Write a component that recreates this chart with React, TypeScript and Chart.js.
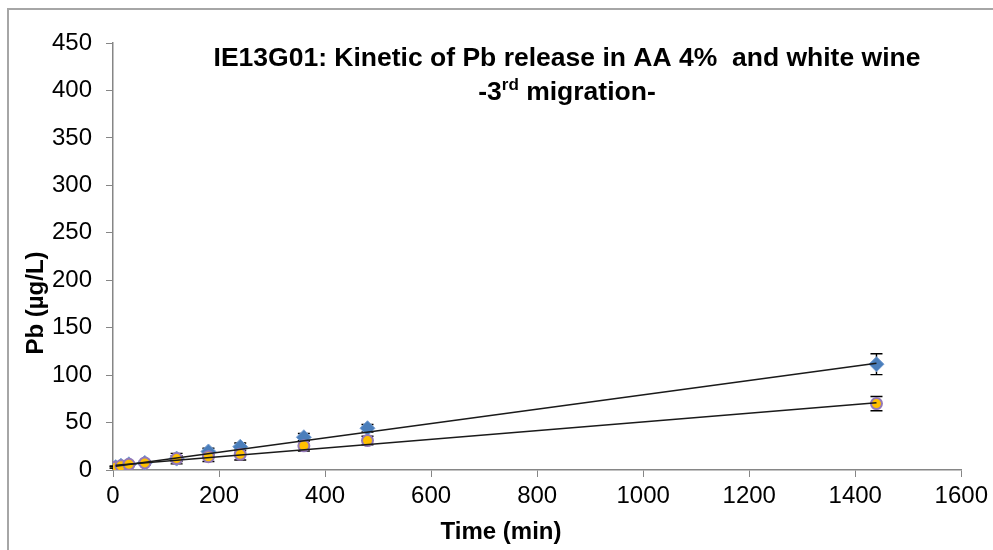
import React, { useEffect, useRef } from "react";
import { Chart, registerables } from "chart.js";
Chart.register(...registerables);

// ---- data ----
const times = [5, 15, 30, 60, 120, 180, 240, 360, 480, 1440];
const aaValues = [3, 4.5, 6, 7.5, 12, 19.5, 24.5, 34.5, 44, 111.5];
const aaErrors = [1, 1, 1, 1.5, 3, 3.5, 4, 4, 4, 11];
const wineValues = [3, 4.5, 6, 7.5, 12, 14, 16.5, 25.5, 31, 70];
const wineErrors = [1, 1, 1, 2, 5.5, 5, 6, 5.5, 4.5, 7.5];
const trendX = [5, 1440];
const aaTrendY = [4, 112.5];
const wineTrendY = [5, 71];
const xTicks = [0, 200, 400, 600, 800, 1000, 1200, 1400, 1600];
const yTicks = [0, 50, 100, 150, 200, 250, 300, 350, 400, 450];
const titleLine1 = "IE13G01: Kinetic of Pb release in AA 4%  and white wine";
const titleLine2 = ["-3", "rd", " migration-"];
const xTitle = "Time (min)";
const yTitle = "Pb (\u00b5g/L)";

const FONT = "'Liberation Sans', Arial, sans-serif";

const toPts = (xs: number[], ys: number[]) => xs.map((x, i) => ({ x, y: ys[i] }));

const errorBars = {
  id: "errorBars",
  beforeDatasetsDraw(chart: any) {
    const ctx = chart.ctx;
    const xs = chart.scales.x;
    const ys = chart.scales.y;
    const sets = [
      [aaValues, aaErrors],
      [wineValues, wineErrors],
    ];
    ctx.save();
    ctx.strokeStyle = "#000";
    ctx.lineWidth = 1.4;
    sets.forEach(([vals, errs]) => {
      times.forEach((t, i) => {
        const px = xs.getPixelForValue(t);
        const top = ys.getPixelForValue(vals[i] + errs[i]);
        const bot = ys.getPixelForValue(Math.max(0, vals[i] - errs[i]));
        ctx.beginPath();
        ctx.moveTo(px, top);
        ctx.lineTo(px, bot);
        ctx.moveTo(px - 6, top);
        ctx.lineTo(px + 6, top);
        ctx.moveTo(px - 6, bot);
        ctx.lineTo(px + 6, bot);
        ctx.stroke();
      });
    });
    ctx.restore();
  },
};

const decorations = {
  id: "decorations",
  beforeDraw(chart: any) {
    const ctx = chart.ctx;
    ctx.save();
    ctx.fillStyle = "#ffffff";
    ctx.fillRect(0, 0, chart.width, chart.height);
    ctx.fillStyle = "#a6a6a6";
    ctx.fillRect(7, 8, chart.width - 7, 2);
    ctx.fillRect(7, 8, 2, chart.height - 8);
    ctx.restore();
  },
  afterDraw(chart: any) {
    const ctx = chart.ctx;
    ctx.save();
    ctx.fillStyle = "#000";
    ctx.textBaseline = "alphabetic";
    // title line 1
    ctx.font = `bold 26.5px ${FONT}`;
    ctx.textAlign = "center";
    const cx = 567;
    ctx.fillText(titleLine1, cx, 66);
    // title line 2 with superscript
    const big = `bold 26.5px ${FONT}`;
    const small = `bold 17px ${FONT}`;
    ctx.font = big;
    const w1 = ctx.measureText(titleLine2[0]).width;
    const w3 = ctx.measureText(titleLine2[2]).width;
    ctx.font = small;
    const w2 = ctx.measureText(titleLine2[1]).width;
    let x = cx - (w1 + w2 + w3) / 2;
    ctx.textAlign = "left";
    ctx.font = big;
    ctx.fillText(titleLine2[0], x, 100);
    x += w1;
    ctx.font = small;
    ctx.fillText(titleLine2[1], x, 90);
    x += w2;
    ctx.font = big;
    ctx.fillText(titleLine2[2], x, 100);
    // axis titles
    ctx.font = `bold 24px ${FONT}`;
    ctx.textAlign = "center";
    ctx.fillText(xTitle, 501, 539);
    ctx.translate(43, 303);
    ctx.rotate(-Math.PI / 2);
    ctx.fillText(yTitle, 0, 0);
    ctx.restore();
  },
};

export default function App() {
  const ref = useRef<HTMLCanvasElement | null>(null);
  useEffect(() => {
    if (!ref.current) return;
    const chart = new Chart(ref.current, {
      type: "scatter",
      data: {
        datasets: [
          {
            type: "line",
            label: "AA trend",
            data: toPts(trendX, aaTrendY),
            borderColor: "#1a1a1a",
            borderWidth: 1.5,
            pointRadius: 0,
            order: 0,
          } as any,
          {
            type: "line",
            label: "Wine trend",
            data: toPts(trendX, wineTrendY),
            borderColor: "#1a1a1a",
            borderWidth: 1.5,
            pointRadius: 0,
            order: 0,
          } as any,
          {
            label: "White wine",
            data: toPts(times, wineValues),
            pointStyle: "circle",
            pointRadius: 5.5,
            backgroundColor: "#FFC000",
            borderColor: "#9479B8",
            borderWidth: 2,
            order: 1,
          },
          {
            label: "AA 4%",
            data: toPts(times, aaValues),
            pointStyle: "rectRot",
            pointRadius: 7.5,
            backgroundColor: "#4A7EBB",
            borderColor: "#78A0D4",
            borderWidth: 1,
            order: 2,
          },
        ],
      },
      options: {
        animation: false,
        responsive: false,
        devicePixelRatio: 1,
        layout: { padding: { top: 43, right: 29, left: 0, bottom: 0 } },
        plugins: {
          legend: { display: false },
          tooltip: { enabled: false },
          title: { display: false },
        },
        scales: {
          x: {
            type: "linear",
            min: 0,
            max: 1600,
            afterBuildTicks: (s: any) => {
              s.ticks = xTicks.map((v) => ({ value: v }));
            },
            afterFit: (s: any) => {
              s.height = 80;
            },
            ticks: {
              color: "#000",
              font: { family: FONT, size: 24 },
              padding: 5,
              maxRotation: 0,
              autoSkip: false,
              callback: (v: any) => String(v),
            },
            grid: {
              drawOnChartArea: false,
              drawTicks: true,
              tickLength: 7,
              color: "#868686",
            },
            border: { display: true, color: "#868686", width: 1.5 },
          },
          y: {
            type: "linear",
            min: 0,
            max: 450,
            afterBuildTicks: (s: any) => {
              s.ticks = yTicks.map((v) => ({ value: v }));
            },
            afterFit: (s: any) => {
              s.width = 113;
            },
            ticks: {
              color: "#000",
              font: { family: FONT, size: 24 },
              padding: 14,
              autoSkip: false,
              callback: (v: any) => String(v),
            },
            grid: {
              drawOnChartArea: false,
              drawTicks: true,
              tickLength: 7,
              color: "#868686",
            },
            border: { display: true, color: "#868686", width: 1.5 },
          },
        },
      },
      plugins: [decorations, errorBars],
    } as any);
    return () => chart.destroy();
  }, []);
  return (
    <div style={{ position: "fixed", left: 0, top: 0, width: 993, height: 550 }}>
      <canvas ref={ref} width={993} height={550} />
    </div>
  );
}
